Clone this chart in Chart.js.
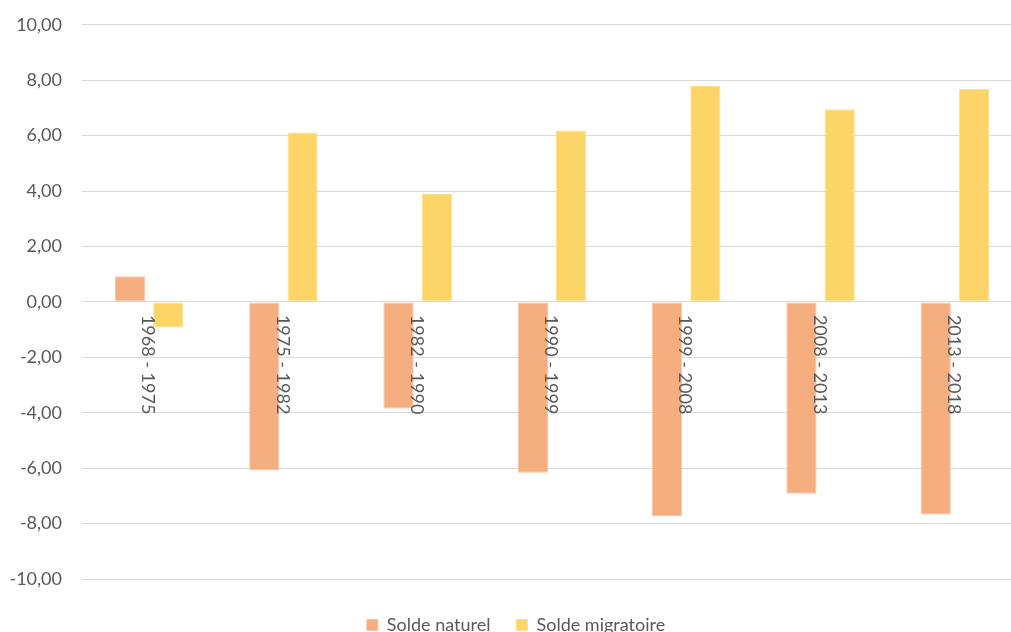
<!DOCTYPE html>
<html lang="fr">
<head>
<meta charset="utf-8">
<title>Solde naturel et solde migratoire</title>
<script src="https://cdn.jsdelivr.net/npm/chart.js@4/dist/chart.umd.min.js"></script>
<style>
  html, body { margin: 0; padding: 0; background: #fff; overflow: hidden; }
  #wrap { position: relative; width: 1024px; height: 650px; margin-top: -6px; }
</style>
</head>
<body>
<div id="wrap"><canvas id="soldes"></canvas></div>
<script>
// periodes intercensitaires
const periodes = ['1968 - 1975', '1975 - 1982', '1982 - 1990', '1990 - 1999', '1999 - 2008', '2008 - 2013', '2013 - 2018'];
// solde naturel et solde migratoire par periode
const soldeNaturel = [0.93, -6.08, -3.85, -6.17, -7.73, -6.92, -7.67];
const soldeMigratoire = [-0.92, 6.11, 3.89, 6.19, 7.79, 6.95, 7.68];
// graduations de l'axe vertical
const yMin = -10, yMax = 10, yStep = 2;

const FONT = 'Lato, "Liberation Sans", sans-serif';
const GREY_TEXT = '#595959';

function virgule(v) {
    return v.toFixed(2).replace('.', ',');
}

// libelles des periodes, tournes, poses sous la ligne du zero
const libellesPeriodes = {
    id: 'libellesPeriodes',
    afterDatasetsDraw(chart) {
        const ctx = chart.ctx;
        const x = chart.scales.x;
        const y0 = chart.scales.y.getPixelForValue(0);
        ctx.save();
        ctx.font = '18px ' + FONT;
        ctx.fillStyle = GREY_TEXT;
        ctx.textAlign = 'left';
        ctx.textBaseline = 'middle';
        periodes.forEach((p, i) => {
            ctx.save();
            ctx.translate(x.getPixelForValue(i) - 1, y0 + 13);
            ctx.rotate(Math.PI / 2);
            ctx.fillText(p, 0, 0);
            ctx.restore();
        });
        ctx.restore();
    }
};

const ctx = document.getElementById('soldes').getContext('2d');
const chart = new Chart(ctx, {
    type: 'bar',
    data: {
        labels: periodes,
        datasets: [{
            label: 'Solde naturel',
            data: soldeNaturel,
            backgroundColor: '#F5AE80',
            borderColor: '#F8C3A0',
            borderWidth: 1,
            borderSkipped: false
        }, {
            label: 'Solde migratoire',
            data: soldeMigratoire,
            backgroundColor: '#FCD569',
            borderColor: '#FDE08E',
            borderWidth: 1,
            borderSkipped: false
        }]
    },
    options: {
        responsive: true,
        maintainAspectRatio: false,
        animation: false,
        layout: {
            padding: { left: 10, right: 2, top: 8, bottom: 0 }
        },
        datasets: {
            bar: {
                categoryPercentage: 0.57,
                barPercentage: 0.79
            }
        },
        scales: {
            x: {
                // axe vide : sert seulement d'espace entre le trace et la legende
                afterFit(scale) { scale.height = 11; },
                border: { display: false },
                grid: { display: false },
                ticks: { display: false }
            },
            y: {
                min: yMin,
                max: yMax,
                afterFit(scale) { scale.width = 72; },
                border: { display: false },
                grid: {
                    color: '#D9D9D9',
                    lineWidth: 1,
                    drawTicks: false
                },
                ticks: {
                    stepSize: yStep,
                    padding: 20,
                    color: GREY_TEXT,
                    font: { family: FONT, size: 18 },
                    callback: (v) => virgule(v)
                }
            }
        },
        plugins: {
            legend: {
                position: 'bottom',
                labels: {
                    boxWidth: 11,
                    boxHeight: 11,
                    padding: 26,
                    color: GREY_TEXT,
                    font: { family: FONT, size: 18 }
                }
            },
            tooltip: { enabled: false }
        }
    },
    plugins: [libellesPeriodes]
});
</script>
</body>
</html>
